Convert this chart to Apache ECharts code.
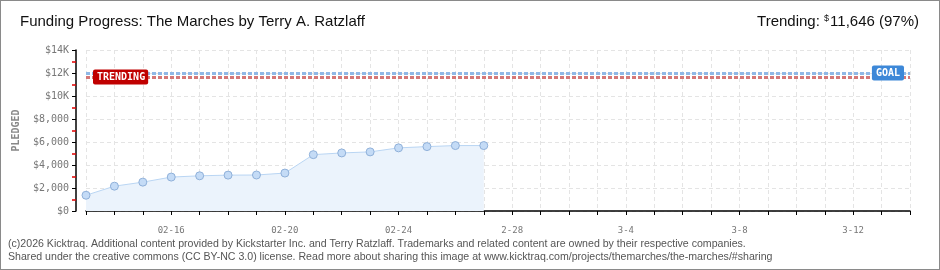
<!DOCTYPE html>
<html><head><meta charset="utf-8">
<script src="https://cdn.jsdelivr.net/npm/echarts@6/dist/echarts.min.js"></script>
<style>
html,body{margin:0;padding:0;background:#fff;}
#c{width:938px;height:268px;border:1px solid #8a8a8a;}
</style></head>
<body><div id="c"></div>
<script>
const categories = ['02-13','02-14','02-15','02-16','02-17','02-18','02-19','02-20','02-21','02-22','02-23','02-24','02-25','02-26','02-27','2-28','3-1','3-2','3-3','3-4','3-5','3-6','3-7','3-8','3-9','3-10','3-11','3-12','3-13','3-14'];
const pledged = [1370,2160,2510,2950,3060,3120,3130,3300,4900,5050,5140,5490,5600,5690,5690];
const goal = 12000;
const trending = 11646;
const trendingPct = 97;
const yTickLabels = ['$0','$2,000','$4,000','$6,000','$8,000','$10K','$12K','$14K'];
const titleText = 'Funding Progress: The Marches by Terry A. Ratzlaff';
const footer1 = '(c)2026 Kicktraq. Additional content provided by Kickstarter Inc. and Terry Ratzlaff. Trademarks and related content are owned by their respective companies.';
const footer2 = 'Shared under the creative commons (CC BY-NC 3.0) license. Read more about sharing this image at www.kicktraq.com/projects/themarches/the-marches/#sharing';

const pix = '"DejaVu Sans Mono", monospace';
const sans = '"Liberation Sans", Arial, sans-serif';
const chart = echarts.init(document.getElementById('c'));
chart.setOption({
  animation:false,
  title:[
    {text:titleText,left:19,top:13,padding:0,textStyle:{fontFamily:sans,fontSize:15,fontWeight:'normal',color:'#111'}},
    {text:'{a|Trending: }{s|$}{a|'+trending.toLocaleString('en-US')+' ('+trendingPct+'%)}',right:20,top:13,padding:0,
     textStyle:{fontWeight:'normal',rich:{a:{fontFamily:sans,fontSize:15,fontWeight:'normal',color:'#111'},s:{fontFamily:sans,fontSize:9,fontWeight:'normal',color:'#111',verticalAlign:'top',padding:[0,1,6,0]}}}},
    {text:footer1+'\n'+footer2,left:7,top:237,padding:0,textStyle:{fontFamily:sans,fontSize:10.6,fontWeight:'normal',color:'#555',lineHeight:13}}
  ],
  grid:{left:85,right:29,top:49,bottom:58},
  xAxis:{type:'category',data:categories,boundaryGap:false,offset:10,
    axisLine:{lineStyle:{color:'#000',width:1.5}},
    axisTick:{show:true,interval:0,length:4,lineStyle:{color:'#000'}},
    axisLabel:{interval:(i)=>i%4===3,fontFamily:pix,fontSize:9,color:'#777',margin:5},
    splitLine:{show:true,interval:0,lineStyle:{color:'#e4e4e4',type:[4,3]}}},
  yAxis:{type:'value',min:0,max:14000,interval:2000,offset:10,
    name:'PLEDGED',nameLocation:'middle',nameGap:55,nameRotate:90,
    nameTextStyle:{fontFamily:pix,fontSize:10,color:'#888',fontWeight:'bold'},
    axisLine:{show:true,lineStyle:{color:'#000',width:1.5}},
    axisTick:{show:true,length:4,lineStyle:{color:'#000'}},
    minorTick:{show:true,splitNumber:2,length:4,lineStyle:{color:'#e00000',width:1.5}},
    axisLabel:{fontFamily:pix,fontSize:10,color:'#777',margin:7,formatter:(v)=>yTickLabels[Math.round(v/2000)]},
    splitLine:{show:true,lineStyle:{color:'#e4e4e4',type:[4,3]}}},
  series:[
    {type:'line',data:pledged,symbol:'circle',symbolSize:8,
     lineStyle:{color:'#b9d5f3',width:1},
     itemStyle:{color:'#c4dbf6',borderColor:'#8fb0d9',borderWidth:1},
     areaStyle:{color:'#ebf3fc',opacity:1},
     markLine:{silent:true,symbol:'none',label:{show:false},
       data:[{yAxis:goal,lineStyle:{color:'#8fb8e6',width:3,type:[4,2]}},
             {yAxis:trending,lineStyle:{color:'#d47878',width:3,type:[4,2]}}]},
     markPoint:{silent:true,symbol:'rect',symbolSize:0,
       data:[
        {coord:[categories[0],trending],label:{show:true,position:'right',distance:7,formatter:'TRENDING',fontFamily:pix,fontSize:10,fontWeight:'bold',color:'#fff',backgroundColor:'#c00000',borderRadius:2,padding:[3,3,2,4]}},
        {coord:[categories[categories.length-1],goal],label:{show:true,position:'left',distance:6,formatter:'GOAL',fontFamily:pix,fontSize:10,fontWeight:'bold',color:'#fff',backgroundColor:'#3d88d8',borderRadius:2,padding:[3,4,2,4]}}
       ]}
    }
  ]
});
</script></body></html>
